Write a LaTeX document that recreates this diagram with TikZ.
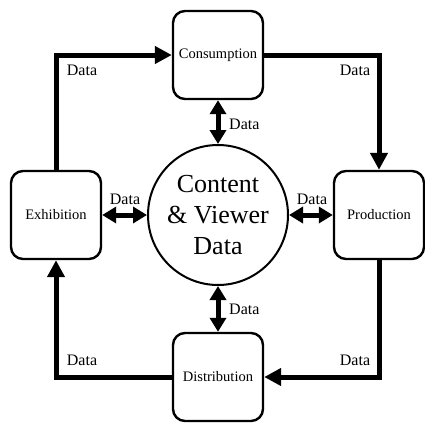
\documentclass[tikz,border=0pt]{standalone}
\usepackage{fontspec}
\setmainfont{Liberation Serif}
\usetikzlibrary{arrows.meta,positioning}

\begin{document}
\begin{tikzpicture}[x=1pt,y=-1pt,
  stage/.style={draw=black,line width=2.4pt,rounded corners=12pt,minimum width=90pt,
                minimum height=88pt,inner sep=2pt,font=\fontsize{14.5}{17}\selectfont},
  hub/.style={draw=black,line width=2pt,circle,minimum size=140pt,align=center,inner sep=0pt,
              font=\fontsize{26}{31}\selectfont},
  lbl/.style={font=\fontsize{16}{18}\selectfont,inner sep=0pt},
  flow/.style={-{Triangle[length=17pt,width=17pt]},line width=5pt},
  swap/.style={{Triangle[length=14pt,width=16pt]}-{Triangle[length=14pt,width=16pt]},line width=5pt}]

  \useasboundingbox (0,0) rectangle (424,426);

  % stages
  \node[stage] (con) at (218,55)  {Consumption};
  \node[stage] (pro) at (379,215) {Production};
  \node[stage] (dis) at (218,377) {Distribution};
  \node[stage] (exh) at (56,215)  {Exhibition};

  % centre
  \node[hub] (hub) at (218,215) {Content\\\& Viewer\\Data};

  % outer cycle
  \draw[flow] (exh.north) |- (con.west);
  \draw[flow] (con.east) -| (pro.north);
  \draw[flow] (pro.south) |- (dis.east);
  \draw[flow] (dis.west) -| (exh.south);
  \node[lbl] at (82,70)  {Data};
  \node[lbl] at (355,70) {Data};
  \node[lbl] at (355,360) {Data};
  \node[lbl] at (82,360) {Data};

  % exchange with the centre
  \draw[swap] (con.south) -- (hub.north);
  \draw[swap] (hub.south) -- (dis.north);
  \draw[swap] (exh.east) -- (hub.west);
  \draw[swap] (hub.east) -- (pro.west);
  \node[lbl,anchor=west] at (229,124) {Data};
  \node[lbl,anchor=west] at (229,309) {Data};
  \node[lbl] at (125,199) {Data};
  \node[lbl] at (312,199) {Data};
\end{tikzpicture}
\end{document}
